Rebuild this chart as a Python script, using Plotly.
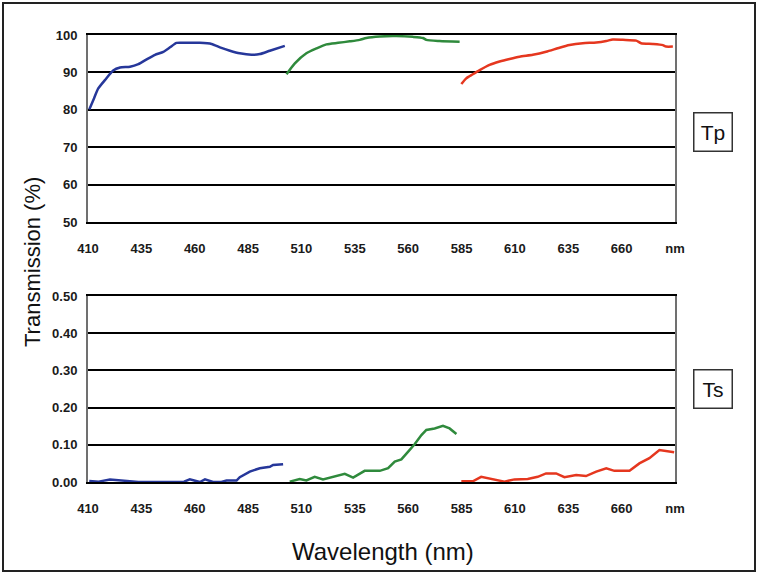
import plotly.graph_objects as go

W, H = 758, 575

# ---------------- data ----------------
tp_blue_wl = [410.6, 412.5, 414.8, 418.0, 421.8, 425.0, 429.7, 433.6, 437.5, 441.4, 445.3, 448.4,
              451.5, 456.2, 462.4, 467.9, 471.8, 476.5, 481.1, 486.6, 490.5, 495.2, 502.2]
tp_blue = [80.1, 82.6, 85.7, 88.0, 90.5, 91.3, 91.5, 92.2, 93.5, 94.7, 95.5, 96.7,
           97.9, 97.9, 97.9, 97.6, 96.7, 95.8, 95.1, 94.7, 94.9, 95.8, 97.1]

tp_green_wl = [503.0, 506.9, 512.3, 517.0, 521.7, 527.2, 532.6, 537.3, 540.4, 546.7, 554.4,
               562.2, 566.9, 568.5, 574.7, 584.1]
tp_green = [89.5, 92.4, 95.1, 96.4, 97.5, 97.9, 98.3, 98.7, 99.2, 99.6, 99.7,
            99.5, 99.2, 98.7, 98.4, 98.2]

tp_red_wl = [584.9, 587.2, 590.3, 593.5, 598.1, 602.8, 607.5, 612.2, 618.4, 624.6, 630.9, 635.6,
             641.8, 648.1, 652.8, 655.9, 660.6, 666.8, 669.1, 674.6, 679.3, 680.8, 684.0]
tp_red = [86.9, 88.4, 89.5, 90.6, 92.0, 92.9, 93.6, 94.2, 94.7, 95.5, 96.6, 97.3,
          97.8, 98.0, 98.4, 98.8, 98.7, 98.5, 97.8, 97.6, 97.3, 96.9, 96.9]

ts_blue_wl = [410.6, 415.0, 420.3, 425.0, 433.6, 447.6, 455.0, 457.7, 462.4, 464.8, 468.6, 472.5,
              474.9, 479.6, 481.1, 485.8, 490.5, 495.2, 496.7, 501.4]
ts_blue = [0.003, 0.001, 0.007, 0.005, 0.000, 0.000, 0.001, 0.007, 0.000, 0.007, 0.000, 0.000,
           0.004, 0.004, 0.013, 0.028, 0.037, 0.041, 0.046, 0.048]

ts_green_wl = [504.5, 509.2, 512.3, 516.2, 520.1, 524.8, 530.3, 534.2, 539.6, 546.7, 550.6,
               553.7, 556.8, 559.9, 563.1, 566.2, 568.5, 572.4, 576.3, 579.4, 582.6]
ts_green = [0.001, 0.008, 0.004, 0.014, 0.007, 0.014, 0.022, 0.012, 0.030, 0.030, 0.037,
            0.055, 0.061, 0.081, 0.102, 0.126, 0.140, 0.144, 0.151, 0.144, 0.129]

ts_red_wl = [584.9, 590.3, 594.2, 599.6, 605.1, 609.8, 616.0, 620.7, 624.6, 629.3, 633.2, 638.7,
             643.3, 648.1, 652.8, 656.6, 663.7, 668.3, 673.0, 677.7, 682.3, 684.6]
ts_red = [0.002, 0.002, 0.014, 0.008, 0.001, 0.007, 0.008, 0.014, 0.023, 0.023, 0.013, 0.019,
          0.016, 0.028, 0.037, 0.030, 0.030, 0.050, 0.064, 0.086, 0.083, 0.080]

x_tickvals = [410, 435, 460, 485, 510, 535, 560, 585, 610, 635, 660, 685]
x_ticktext = ["410", "435", "460", "485", "510", "535", "560", "585", "610", "635", "660", "nm"]
tp_ticks = [50, 60, 70, 80, 90, 100]
ts_ticks = [0.0, 0.1, 0.2, 0.3, 0.4, 0.5]
ts_ticktext = ["0.00", "0.10", "0.20", "0.30", "0.40", "0.50"]

BLUE, GREEN, RED = "#26379a", "#2f8a3c", "#e5371f"
FONT = "Liberation Sans, Arial, sans-serif"


def px_x(p):
    return p / W


def px_y(p):
    return 1 - p / H


fig = go.Figure()
for wl, v, c in [(tp_blue_wl, tp_blue, BLUE), (tp_green_wl, tp_green, GREEN), (tp_red_wl, tp_red, RED)]:
    fig.add_trace(go.Scatter(x=wl, y=v, mode="lines",
                             line=dict(color=c, width=2.5, shape="spline", smoothing=0.6),
                             xaxis="x", yaxis="y", showlegend=False))
for wl, v, c in [(ts_blue_wl, ts_blue, BLUE), (ts_green_wl, ts_green, GREEN), (ts_red_wl, ts_red, RED)]:
    fig.add_trace(go.Scatter(x=wl, y=v, mode="lines", line=dict(color=c, width=2.5),
                             xaxis="x2", yaxis="y2", showlegend=False))

tickfont = dict(family=FONT, size=13, color="#1a1a1a", weight="bold")
xcommon = dict(range=[410, 685], tickmode="array", tickvals=x_tickvals, ticktext=x_ticktext,
               showgrid=False, zeroline=False, showline=True, linecolor="black", linewidth=2,
               mirror=True, ticks="", tickfont=tickfont, ticklabelstandoff=13, automargin=False)
ycommon = dict(showgrid=True, gridcolor="black", gridwidth=2, zeroline=False, showline=True,
               linecolor="#707070", linewidth=2, mirror=True, ticks="", tickfont=tickfont,
               ticklabelstandoff=6, automargin=False)

dom_x = [px_x(88), px_x(675)]
ann_common = dict(xref="paper", yref="paper", showarrow=False, xanchor="center", yanchor="middle")
fig.update_layout(
    width=W, height=H, margin=dict(l=0, r=0, t=0, b=0, autoexpand=False),
    paper_bgcolor="white", plot_bgcolor="white",
    xaxis=dict(domain=dom_x, anchor="y", **xcommon),
    yaxis=dict(domain=[px_y(222), px_y(35)], anchor="x", range=[50, 100],
               tickmode="array", tickvals=tp_ticks, **ycommon),
    xaxis2=dict(domain=dom_x, anchor="y2", **xcommon),
    yaxis2=dict(domain=[px_y(482), px_y(296)], anchor="x2", range=[0, 0.5],
                tickmode="array", tickvals=ts_ticks, ticktext=ts_ticktext, **ycommon),
    shapes=[dict(type="rect", xref="paper", yref="paper",
                 x0=px_x(3), x1=px_x(755), y0=px_y(571), y1=px_y(3),
                 line=dict(color="#222", width=2))],
    annotations=[
        dict(text="Tp", x=px_x(713), y=px_y(132), font=dict(family=FONT, size=21, color="#111"),
             bordercolor="#333", borderwidth=1.5, borderpad=1, width=35, height=35,
             bgcolor="white", **ann_common),
        dict(text="Ts", x=px_x(713), y=px_y(389), font=dict(family=FONT, size=21, color="#111"),
             bordercolor="#333", borderwidth=1.5, borderpad=1, width=35, height=35,
             bgcolor="white", **ann_common),
        dict(text="Transmission (%)", x=px_x(32), y=px_y(262), textangle=-90,
             font=dict(family=FONT, size=22, color="#111"), **ann_common),
        dict(text="Wavelength (nm)", x=px_x(383), y=px_y(551),
             font=dict(family=FONT, size=24, color="#111"), **ann_common),
    ],
)

fig.write_html("out.html", config={"displayModeBar": False},
               post_script="document.body.style.margin='0';")
